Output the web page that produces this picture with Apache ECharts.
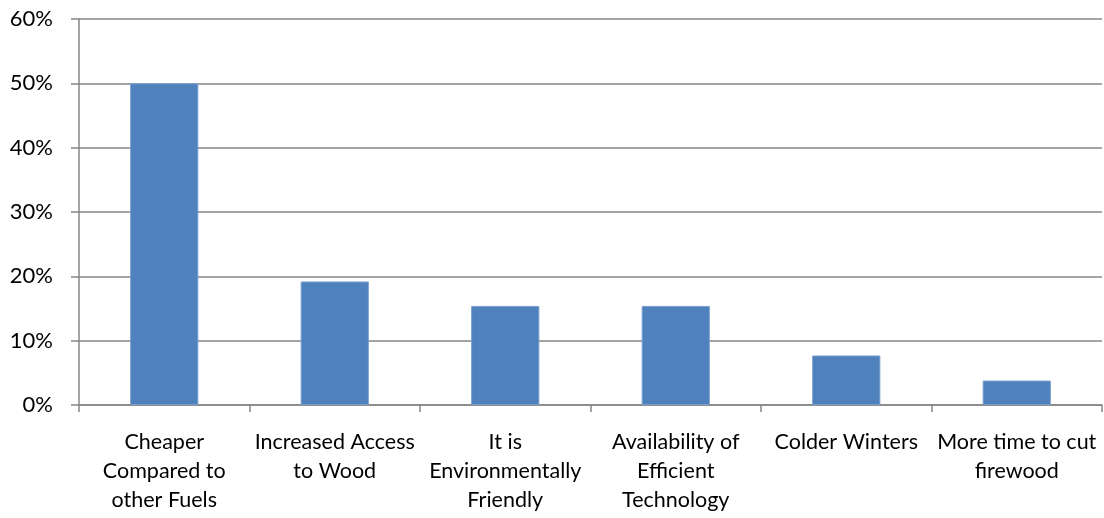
<!DOCTYPE html>
<html>
<head>
<meta charset="utf-8">
<script src="https://cdn.jsdelivr.net/npm/echarts@6/dist/echarts.min.js"></script>
<style>
  html, body { margin: 0; padding: 0; background: #fff; }
  #chart { width: 1104px; height: 518px; }
</style>
</head>
<body>
<div id="chart"></div>
<script>
// Reasons given for using more wood (share of respondents, %)
const categories = [
  "Cheaper\nCompared to\nother Fuels",
  "Increased Access\nto Wood",
  "It is\nEnvironmentally\nFriendly",
  "Availability of\nEfficient\nTechnology",
  "Colder Winters",
  "More time to cut\nfirewood"
];
const shares = [50.0, 19.2, 15.4, 15.4, 7.7, 3.8];
const yTicks = [0, 10, 20, 30, 40, 50, 60];

const font = "Lato, 'Open Sans', sans-serif";
const axisGrey = "#868686";

const chart = echarts.init(document.getElementById("chart"));
chart.setOption({
  animation: false,
  grid: { left: 79, right: 2, top: 19, bottom: 113, containLabel: false },
  xAxis: {
    type: "category",
    data: categories,
    boundaryGap: true,
    axisLine: { lineStyle: { color: axisGrey, width: 1.5 } },
    axisTick: { show: true, length: 7, alignWithLabel: false, lineStyle: { color: axisGrey, width: 1.5 } },
    axisLabel: {
      interval: 0,
      color: "#000",
      fontFamily: font,
      fontSize: 21.5,
      lineHeight: 29,
      margin: 23
    }
  },
  yAxis: {
    type: "value",
    min: yTicks[0],
    max: yTicks[yTicks.length - 1],
    interval: 10,
    axisLine: { show: true, lineStyle: { color: axisGrey, width: 1.5 } },
    axisTick: { show: true, length: 8, lineStyle: { color: axisGrey, width: 1.5 } },
    splitLine: { show: true, lineStyle: { color: axisGrey, width: 1.5 } },
    axisLabel: {
      color: "#000",
      fontFamily: font,
      fontSize: 22,
      margin: 26,
      formatter: v => v + "%"
    }
  },
  series: [{
    type: "bar",
    data: shares,
    barWidth: "40%",
    itemStyle: { color: "#4F81BD", borderColor: "#7A9FD0", borderWidth: 1 }
  }]
});
</script>
</body>
</html>
